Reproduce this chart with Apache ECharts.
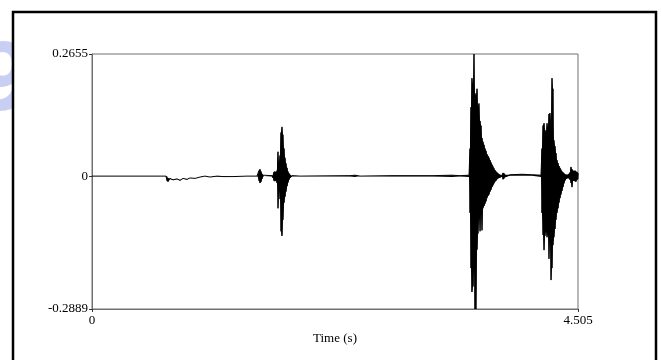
<!DOCTYPE html>
<html>
<head>
<meta charset="utf-8">
<script src="https://cdn.jsdelivr.net/npm/echarts@6/dist/echarts.min.js"></script>
<style>
html,body{margin:0;padding:0;background:#fff;}
#chart{width:661px;height:360px;}
</style>
</head>
<body>
<div id="chart"></div>
<script>
// Time (s) of each envelope sample, with the upper and lower envelope of the waveform
const times = [0, 0.686, 0.695, 0.704, 0.723, 0.751, 0.788, 0.816, 0.844, 0.881, 0.908, 0.955, 1.001, 1.047, 1.094, 1.159, 1.214, 1.307, 1.437, 1.529,
  1.539, 1.548, 1.557, 1.567, 1.576, 1.585, 1.594, 1.669, 1.678, 1.687, 1.696, 1.706, 1.715, 1.724, 1.733, 1.743, 1.752, 1.761, 1.770, 1.780,
  1.789, 1.798, 1.808, 1.817, 1.826, 1.835, 1.854, 1.928, 2.392, 2.438, 2.484, 2.781, 3.152, 3.337, 3.411, 3.495,
  3.504, 3.513, 3.522, 3.532, 3.541, 3.550, 3.559, 3.569, 3.578, 3.587, 3.597, 3.606, 3.615, 3.624, 3.634, 3.643, 3.652, 3.661, 3.671, 3.680,
  3.689, 3.698, 3.708, 3.717, 3.726, 3.736, 3.745, 3.754, 3.763, 3.773, 3.782, 3.800, 3.810, 3.819, 3.828, 3.875, 3.986, 4.079, 4.162,
  4.171, 4.181, 4.190, 4.199, 4.208, 4.218, 4.227, 4.236, 4.245, 4.255, 4.264, 4.273, 4.282, 4.292, 4.301, 4.310, 4.320, 4.329, 4.338, 4.347,
  4.357, 4.366, 4.375, 4.384, 4.394, 4.403, 4.412, 4.421, 4.431, 4.440, 4.449, 4.459, 4.468, 4.477, 4.486, 4.496, 4.505];
const upper = [0, 0, 0.000, -0.004, -0.005, -0.008, -0.006, -0.009, -0.005, -0.007, -0.004, -0.005, -0.002, 0, -0.002, 0, -0.001, -0.001, 0, 0,
  0.003, 0.012, 0.015, 0.010, 0.005, 0.002, 0, 0.001, 0.004, 0.009, 0.010, 0.008, 0.012, 0.053, 0.030, 0.045, 0.095, 0.107, 0.090, 0.060,
  0.040, 0.028, 0.018, 0.010, 0.006, 0.003, 0.001, 0, 0.001, 0.002, 0, 0.001, 0.001, 0.002, 0.001, 0.002,
  0.060, 0.150, 0.213, 0.200, 0.2655, 0.180, 0.175, 0.190, 0.150, 0.158, 0.120, 0.110, 0.083, 0.075, 0.068, 0.060, 0.055, 0.048, 0.044, 0.040,
  0.035, 0.030, 0.025, 0.021, 0.017, 0.013, 0.010, 0.008, 0.006, 0.004, 0.003, 0.002, 0.007, 0.006, 0.003, 0.003, 0.004, 0.003, 0.002,
  0.060, 0.110, 0.115, 0.100, 0.095, 0.115, 0.105, 0.135, 0.137, 0.120, 0.213, 0.190, 0.078, 0.065, 0.050, 0.035, 0.028, 0.022, 0.018, 0.014,
  0.010, 0.008, 0.006, 0.004, 0.003, 0.003, 0.003, 0.005, 0.008, 0.020, 0.015, 0.012, 0.010, 0.012, 0.010, 0.009, 0.006];
const lower = [0, 0, -0.010, -0.012, -0.006, -0.009, -0.007, -0.010, -0.005, -0.008, -0.004, -0.005, -0.002, 0, -0.002, -0.001, -0.002, -0.001, 0, 0,
  -0.003, -0.010, -0.015, -0.012, -0.006, -0.002, 0, -0.001, -0.004, -0.010, -0.011, -0.009, -0.015, -0.070, -0.030, -0.050, -0.120, -0.130, -0.095, -0.058,
  -0.045, -0.034, -0.022, -0.014, -0.008, -0.004, -0.001, 0, -0.001, -0.002, 0, -0.001, -0.001, -0.002, -0.001, -0.002,
  -0.080, -0.200, -0.252, -0.240, -0.200, -0.2889, -0.2889, -0.160, -0.125, -0.090, -0.120, -0.080, -0.118, -0.070, -0.065, -0.060, -0.055, -0.048, -0.043, -0.040,
  -0.034, -0.030, -0.024, -0.020, -0.016, -0.012, -0.010, -0.007, -0.005, -0.004, -0.003, -0.002, -0.007, -0.005, -0.002, 0.001, 0.001, 0.001, -0.002,
  -0.080, -0.128, -0.161, -0.130, -0.120, -0.133, -0.125, -0.180, -0.140, -0.226, -0.200, -0.150, -0.133, -0.115, -0.095, -0.080, -0.070, -0.058, -0.048, -0.040,
  -0.032, -0.024, -0.016, -0.010, -0.006, -0.005, -0.004, -0.005, -0.008, -0.015, -0.024, -0.010, -0.010, -0.011, -0.012, -0.008, -0.006];

const xTicks = [0, 4.505];
const yTicks = [-0.2889, 0, 0.2655];
const xName = 'Time (s)';

// zig-zag through the envelope samples (spiky outline of the waveform)
const wave = [];
for (let i = 0; i < times.length; i++) {
  wave.push([times[i], upper[i]]);
  wave.push([times[i], lower[i]]);
}
// one row per sample for the filled body of the waveform
const band = times.map((t, i) => [t, upper[i], lower[i]]);

const FONT = '"Liberation Serif", "Times New Roman", serif';
const chart = echarts.init(document.getElementById('chart'), null, {renderer: 'canvas'});
chart.setOption({
  animation: false,
  backgroundColor: '#ffffff',
  graphic: [
    {type: 'text', z: -10, left: -28, top: 40,
      style: {text: '9', font: 'bold 92px "DejaVu Sans", sans-serif', fill: '#c9cff2'}},
    {type: 'rect', z: -5, shape: {x: 14, y: 14, width: 641, height: 360},
      style: {fill: '#ffffff'}},
    {type: 'rect', z: 100, shape: {x: 13, y: 12, width: 643, height: 380},
      style: {fill: null, stroke: '#000000', lineWidth: 2.5}}
  ],
  grid: {left: 92, top: 54, width: 486, height: 255, show: true,
    borderColor: '#707070', borderWidth: 1, backgroundColor: 'transparent'},
  xAxis: {
    type: 'value', min: 0, max: 4.505,
    name: xName, nameLocation: 'middle', nameGap: 22,
    nameTextStyle: {color: '#000', fontFamily: FONT, fontSize: 13},
    axisLine: {show: true, onZero: false, lineStyle: {color: '#707070', width: 1}},
    axisTick: {show: true, inside: false, length: 3, customValues: xTicks, lineStyle: {color: '#333'}},
    axisLabel: {customValues: xTicks, margin: 5, color: '#000', fontFamily: FONT, fontSize: 13,
      formatter: v => String(v)},
    splitLine: {show: false}
  },
  yAxis: {
    type: 'value', min: -0.2889, max: 0.2655,
    axisLine: {show: true, onZero: false, lineStyle: {color: '#707070', width: 1}},
    axisTick: {show: true, inside: false, length: 3, customValues: yTicks, lineStyle: {color: '#333'}},
    axisLabel: {customValues: yTicks, margin: 4, color: '#000', fontFamily: FONT, fontSize: 13,
      formatter: v => String(v)},
    splitLine: {show: false}
  },
  series: [
    {
      type: 'custom', data: [0], z: 4, clip: true,
      renderItem: function (params, api) {
        const pts = [];
        for (let i = 0; i < band.length; i++) pts.push(api.coord([band[i][0], band[i][1]]));
        for (let i = band.length - 1; i >= 0; i--) pts.push(api.coord([band[i][0], band[i][2]]));
        return {type: 'polygon', shape: {points: pts}, style: {fill: '#000', stroke: null}};
      }
    },
    {
      type: 'line', data: wave, showSymbol: false, symbol: 'none', clip: true,
      sampling: null, lineStyle: {color: '#000', width: 1}, z: 5
    }
  ]
});
</script>
</body>
</html>
